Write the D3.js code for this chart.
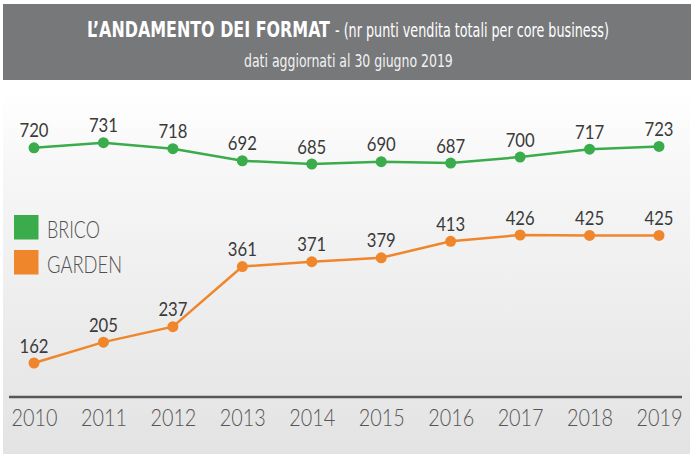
<!DOCTYPE html>
<html>
<head>
<meta charset="utf-8">
<script src="https://cdn.jsdelivr.net/npm/d3@7"></script>
<style>
  html, body { margin: 0; padding: 0; background: #ffffff; }
  svg { display: block; }
</style>
</head>
<body>
<div id="chart"></div>
<script>
// ---- DATA ----
const years = ["2010", "2011", "2012", "2013", "2014", "2015", "2016", "2017", "2018", "2019"];
const brico = [720, 731, 718, 692, 685, 690, 687, 700, 717, 723];
const garden = [162, 205, 237, 361, 371, 379, 413, 426, 425, 425];
const seriesNames = ["BRICO", "GARDEN"];
const titleBold = "L\u2019ANDAMENTO DEI FORMAT";
const titleRest = "- (nr punti vendita totali per core business)";
const subtitle = "dati aggiornati al 30 giugno 2019";

// ---- LAYOUT ----
const W = 696, H = 461;
const colors = { BRICO: "#3aac4b", GARDEN: "#f0862b" };

const svg = d3.select("#chart").append("svg").attr("width", W).attr("height", H);
const defs = svg.append("defs");
const grad = defs.append("linearGradient").attr("id", "bg").attr("x1", 0).attr("y1", 0).attr("x2", 0).attr("y2", 1);
grad.append("stop").attr("offset", "0%").attr("stop-color", "#ffffff");
grad.append("stop").attr("offset", "20%").attr("stop-color", "#f7f7f7");
grad.append("stop").attr("offset", "100%").attr("stop-color", "#e3e3e4");

// horizontally squeeze a text to a target width (keeps its anchor point)
function fitWidth(sel, target) {
  sel.each(function () {
    const t = d3.select(this);
    const w = this.getComputedTextLength();
    if (!w) return;
    const x = +t.attr("x") || 0, y = +t.attr("y") || 0;
    t.attr("x", 0).attr("y", 0)
      .attr("transform", `translate(${x},${y}) scale(${target / w},1)`);
  });
}

// header box
svg.append("rect").attr("x", 3).attr("y", 4).attr("width", 688).attr("height", 76).attr("fill", "#77787a");
// panel
svg.append("rect").attr("x", 3).attr("y", 92).attr("width", 687).attr("height", 362).attr("fill", "url(#bg)");

const condensed = "'DejaVu Sans Condensed', 'Liberation Sans Narrow', 'DejaVu Sans', sans-serif";
svg.append("text").attr("x", 87).attr("y", 37)
  .attr("font-family", condensed).attr("font-weight", "bold").attr("font-size", 21)
  .attr("fill", "#ffffff").text(titleBold).call(fitWidth, 243);
svg.append("text").attr("x", 335).attr("y", 37)
  .attr("font-family", condensed).attr("font-size", 20)
  .attr("fill", "#ffffff").text(titleRest).call(fitWidth, 274);
svg.append("text").attr("x", 244).attr("y", 67)
  .attr("font-family", condensed).attr("font-size", 18)
  .attr("fill", "#f2f2f2").text(subtitle).call(fitWidth, 209);

// scales
const x = d3.scalePoint().domain(years).range([34, 659]);
const yBrico = d3.scaleLinear().domain([685, 731]).range([164, 142.7]);
const yGarden = d3.scaleLinear().domain([162, 426]).range([363, 235]);

const series = [
  { name: "BRICO", values: brico, y: yBrico },
  { name: "GARDEN", values: garden, y: yGarden }
];

// axis baseline
svg.append("line").attr("x1", x.range()[0] - 25).attr("x2", x.range()[1] + 23)
  .attr("y1", 397).attr("y2", 397).attr("stroke", "#565656").attr("stroke-width", 2.5);

// year labels via axis
const axis = svg.append("g").attr("transform", "translate(0,426)")
  .call(d3.axisBottom(x).tickSize(0).tickPadding(0));
axis.select(".domain").remove();
axis.selectAll("text")
  .attr("font-family", "Lato, 'Open Sans', sans-serif").attr("font-weight", 300)
  .attr("font-size", 23).attr("fill", "#565656")
  .attr("dy", null).attr("y", 0)
  .call(fitWidth, 46);

// lines, dots, labels
series.forEach(s => {
  const line = d3.line().x((d, i) => x(years[i])).y(d => s.y(d));
  const g = svg.append("g");
  g.append("path").datum(s.values).attr("d", line)
    .attr("fill", "none").attr("stroke", colors[s.name]).attr("stroke-width", 2.5);
  g.selectAll("circle").data(s.values).enter().append("circle")
    .attr("cx", (d, i) => x(years[i])).attr("cy", d => s.y(d)).attr("r", 5.5)
    .attr("fill", colors[s.name]);
  g.selectAll("text").data(s.values).enter().append("text")
    .attr("x", (d, i) => x(years[i])).attr("y", d => s.y(d) - 10.5)
    .attr("text-anchor", "middle")
    .attr("font-family", "Lato, 'Open Sans', sans-serif").attr("font-size", 19)
    .attr("fill", "#3a3a3a")
    .text(d => d)
    .call(fitWidth, 29);
});

// legend
const legend = svg.append("g");
const legY = [215, 250];
const legW = [53, 75];
seriesNames.forEach((n, i) => {
  legend.append("rect").attr("x", 14).attr("y", legY[i]).attr("width", 24.5).attr("height", 24.5)
    .attr("fill", colors[n]);
  legend.append("text").attr("x", 47).attr("y", legY[i] + 22.5)
    .attr("font-family", "Lato, 'Open Sans', sans-serif").attr("font-weight", 300)
    .attr("font-size", 23).attr("fill", "#505050")
    .text(n)
    .call(fitWidth, legW[i]);
});
</script>
</body>
</html>
